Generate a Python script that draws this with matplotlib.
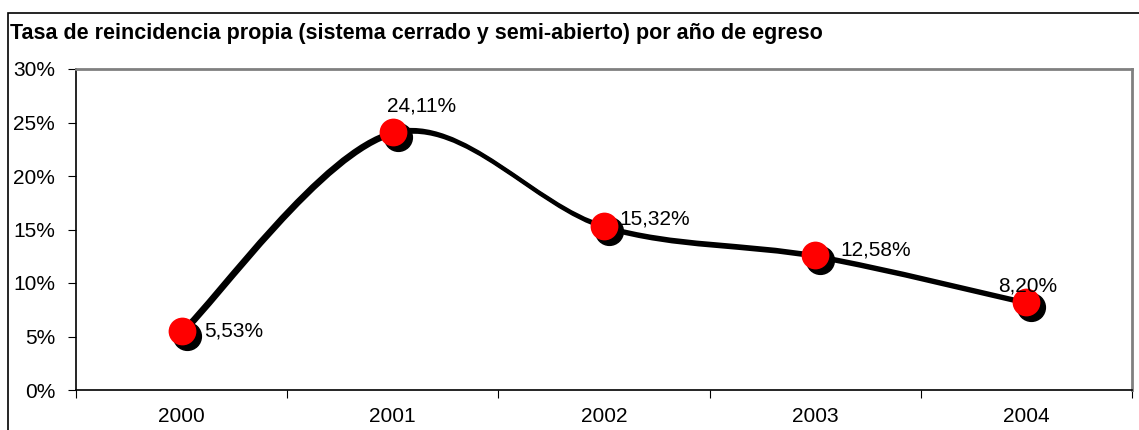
import matplotlib.pyplot as plt
from matplotlib.path import Path
from matplotlib.patches import PathPatch, Rectangle
from matplotlib import transforms

plt.rcParams['font.family'] = ['Liberation Sans', 'DejaVu Sans']

# data
years = ["2000", "2001", "2002", "2003", "2004"]
rates = [5.53, 24.11, 15.32, 12.58, 8.20]
labels = ["5,53%", "24,11%", "15,32%", "12,58%", "8,20%"]
y_ticks = [0, 5, 10, 15, 20, 25, 30]

fig = plt.figure(figsize=(11.39, 4.30), dpi=100)
ax = fig.add_axes([76 / 1139, 40 / 430, (1132 - 76) / 1139, (390 - 69) / 430])

# outer chart frame
fig.patches.append(Rectangle((8 / 1139, -0.01), 1.2, (430 - 13) / 430 + 0.01,
                             transform=fig.transFigure, fill=False,
                             edgecolor="black", linewidth=1.2))

xs = list(range(len(rates)))

# smooth line like excel (bezier through the points)
verts = [(xs[0], rates[0])]
codes = [Path.MOVETO]
n = len(xs)
for i in range(n - 1):
    p0 = (xs[max(i - 1, 0)], rates[max(i - 1, 0)])
    p1 = (xs[i], rates[i])
    p2 = (xs[i + 1], rates[i + 1])
    p3 = (xs[min(i + 2, n - 1)], rates[min(i + 2, n - 1)])
    c1 = (p1[0] + (p2[0] - p0[0]) / 6, p1[1] + (p2[1] - p0[1]) / 6)
    c2 = (p2[0] - (p3[0] - p1[0]) / 6, p2[1] - (p3[1] - p1[1]) / 6)
    verts += [c1, c2, p2]
    codes += [Path.CURVE4] * 3
curve = Path(verts, codes)

shadow = transforms.offset_copy(ax.transData, fig=fig, x=2, y=-2, units="dots")
ax.add_patch(PathPatch(curve, fill=False, edgecolor="black", linewidth=2.8,
                       transform=shadow, zorder=2))
ax.add_patch(PathPatch(curve, fill=False, edgecolor="black", linewidth=2.8, zorder=2))

mshadow = transforms.offset_copy(ax.transData, fig=fig, x=5, y=-5, units="dots")
ax.plot(xs, rates, "o", color="black", markersize=20, transform=mshadow, zorder=3)
ax.plot(xs, rates, "o", color="#ff0000", markersize=20, markeredgewidth=0, zorder=4)

# data labels
offsets = [(16, 0, "left"), (21, 19, "center"), (11, 5, "left"), (18, 4, "left"), (1, 11.5, "center")]
for x, y, t, (dx, dy, ha) in zip(xs, rates, labels, offsets):
    ax.annotate(t, (x, y), xytext=(dx, dy), textcoords="offset points",
                ha=ha, va="center", fontsize=15, zorder=5)

ax.set_xlim(-0.5, 4.5)
ax.set_ylim(0, 30)
ax.set_yticks(y_ticks)
ax.set_yticklabels([f"{v}%" for v in y_ticks])
ax.set_xticks([i + 0.5 for i in range(-1, 5)])
ax.set_xticklabels([])
ax.set_xticks(xs, minor=True)
ax.set_xticklabels(years, minor=True)
ax.tick_params(axis="x", which="major", length=6, direction="out")
ax.tick_params(axis="x", which="minor", length=0, pad=12, labelsize=15)
ax.tick_params(axis="y", length=6, pad=9, labelsize=15)

for s in ["top", "right"]:
    ax.spines[s].set_color("#808080")
    ax.spines[s].set_linewidth(2)
ax.spines["left"].set_linewidth(1.2)
ax.spines["bottom"].set_linewidth(1.2)

fig.text(10 / 1139, 1 - 33 / 430, "Tasa de reincidencia propia (sistema cerrado y semi-abierto) por año de egreso",
         fontsize=15.5, fontweight="bold", va="center", ha="left")

fig.savefig("out.png", dpi=100)
